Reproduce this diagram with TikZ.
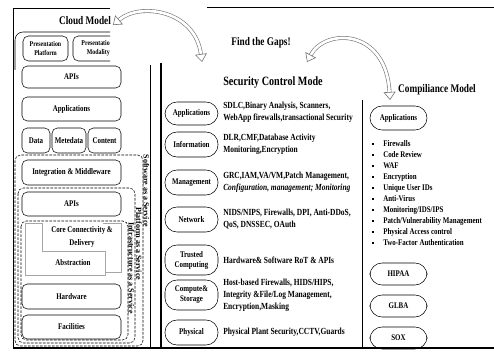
\documentclass[tikz,border=0pt]{standalone}
\usepackage{fontspec}
\setmainfont{Liberation Serif}
\newfontfamily\cnd{Liberation Serif}[FakeStretch=0.8]
\usetikzlibrary{arrows.meta}

\begin{document}
\begin{tikzpicture}[x=0.75pt,y=0.75pt,yscale=-1,xscale=1,
  cbox/.style={draw, rounded corners=4pt, inner sep=0pt, align=center, font=\cnd\bfseries\fontsize{6.5}{7.5}\selectfont},
  sbox/.style={draw, rounded corners=9pt, inner sep=0pt, align=center, minimum width=39.75pt, font=\cnd\bfseries\fontsize{6.5}{7.5}\selectfont},
  desc/.style={anchor=west, inner sep=0pt, align=left, font=\cnd\bfseries\fontsize{7}{9}\selectfont},
  ttl/.style={inner sep=0pt, font=\cnd\bfseries\fontsize{8.7}{10}\selectfont},
  aas/.style={inner sep=0pt, rotate=-90, font=\bfseries\fontsize{6}{7}\selectfont},
  layer/.style={draw, dash pattern=on 2pt off 1pt, rounded corners=4pt},
  core/.style={draw=black!35, line width=0.5pt},
  bul/.style={fill, inner sep=0pt, minimum size=2.2pt},
  blist/.style={anchor=west, inner sep=0pt, font=\cnd\bfseries\fontsize{6.5}{7.5}\selectfont},
  gaparr/.style={draw=black!55, double=white, double distance=2pt, line width=0.45pt, {Triangle[open,width=9pt,length=6pt]}-{Triangle[open,width=9pt,length=6pt]}}
]
\useasboundingbox (0,0) rectangle (494,352);

%Frames
\draw (13,348) -- (13,8) -- (110,8) ;
\draw [rounded corners=6pt] (15,70) -- (15,32) -- (110,32) ;
\draw (150,65) -- (150,348) ;
\draw [line width=0.8pt] (161,63) -- (161,348) ;
\draw (207,7) -- (494,7) ;
\draw (362,100) -- (362,348) ;
\draw [line width=0.8pt] (13,348) -- (494,348) ;

% Cloud Model
\node [ttl] (cloud) at (85,21) {Cloud Model};
\node [cbox, font=\cnd\bfseries\fontsize{5.5}{6.5}\selectfont, minimum width=33.75pt, minimum height=18.75pt] (pplat) at (45.5,48.5) {Presentation\\Platform};
\begin{scope}
\clip (0,0) rectangle (110,70);
\node [cbox, minimum width=33.75pt, minimum height=18.75pt] (pmod) at (95.5,48.5) {};
\node [anchor=east, inner sep=0pt, align=right, font=\cnd\bfseries\fontsize{5.5}{6.5}\selectfont] (pmodtxt) at (110,48.5) {Presentatio\\Modality};
\end{scope}
\node [cbox, minimum width=74.25pt, minimum height=16.5pt] (apis1) at (71.5,77) {APIs};
\node [cbox, minimum width=74.25pt, minimum height=18pt] (apps1) at (71.5,109) {Applications};
\node [cbox, minimum width=21pt, minimum height=18.75pt] (data) at (36,140.5) {Data};
\node [cbox, minimum width=25.5pt, minimum height=18.75pt] (meta) at (69,140.5) {Metedata};
\node [cbox, minimum width=24.75pt, minimum height=18.75pt] (content) at (104.5,140.5) {Content};

%Service layers
\draw [layer] (15,155) rectangle (143,346) ;
\draw [layer] (18,188) rectangle (135,343) ;
\draw [layer] (21,221) rectangle (128,340) ;
\node [aas] (saas) at (146.5,191) {Software as a Service};
\node [aas] (paas) at (139,244) {Platform as a Service};
\node [aas] (iaas) at (131.5,268) {Infrastructure as a Service};

\node [cbox, minimum width=74.25pt, minimum height=18.75pt] (integ) at (71.5,172.5) {Integration \& Middleware};
\node [cbox, minimum width=74.25pt, minimum height=18pt] (apis2) at (71.5,204) {APIs};

%Core connectivity and abstraction
\draw [core] (103,223) -- (121,223) -- (121,272) -- (106,272) ;
\draw [core] (25,223) -- (42,223) -- (42,251) -- (105,251) -- (105,275) -- (25,275) -- cycle ;
\node [inner sep=0pt, align=center, font=\cnd\bfseries\fontsize{6.5}{10}\selectfont] (corecon) at (82,237) {Core Connectivity \&\\Delivery};
\node [inner sep=0pt, font=\cnd\bfseries\fontsize{6.5}{7.5}\selectfont] (abstr) at (73,263) {Abstraction};

\node [cbox, minimum width=74.25pt, minimum height=18.75pt] (hardw) at (71.5,296.5) {Hardware};
\node [cbox, minimum width=74.25pt, minimum height=18pt] (facil) at (71.5,327) {Facilities};

% Security Control Model
\node [ttl] (gaps) at (261,43) {Find the Gaps!};
\node [ttl, font=\cnd\bfseries\fontsize{9.5}{11}\selectfont] (secmodel) at (273,82) {Security Control Mode};

\node [sbox, minimum height=17.25pt] (sapps) at (191.5,113.5) {Applications};
\node [sbox, minimum height=18.75pt] (sinfo) at (191.5,144.5) {Information};
\node [sbox, minimum height=18.75pt] (smgmt) at (191.5,182.5) {Management};
\node [sbox, minimum height=18.75pt] (snet) at (191.5,219.5) {Network};
\node [sbox, minimum height=22.5pt] (strust) at (191.5,260) {Trusted\\Computing};
\node [sbox, minimum height=22.5pt] (scomp) at (191.5,295) {Compute\&\\Storage};
\node [sbox, minimum height=18.75pt] (sphys) at (191.5,332.5) {Physical};

\node [desc] (dapps) at (223,112) {SDLC,Binary Analysis, Scanners,\\WebApp firewalls,transactional Security};
\node [desc] (dinfo) at (223,144.5) {DLR,CMF,Database Activity\\Monitoring,Encryption};
\node [desc] (dmgmt) at (223,182.5) {GRC,IAM,VA/VM,Patch Management,\\\textit{Configuration, management; Monitoring}};
\node [desc] (dnet) at (223,219.5) {NIDS/NIPS, Firewalls, DPI, Anti-DDoS,\\QoS, DNSSEC, OAuth};
\node [desc] (dtrust) at (223,260) {Hardware\& Software RoT \& APIs};
\node [desc] (dcomp) at (223,295) {Host-based Firewalls, HIDS/HIPS,\\Integrity \&File/Log Management,\\Encryption,Masking};
\node [desc] (dphys) at (223,332.5) {Physical Plant Security,CCTV,Guards};

% Compliance Model
\node [ttl] (compl) at (437,90) {Compiliance Model};
\node [sbox, minimum width=42.75pt, minimum height=18pt] (capps) at (398.5,118) {Applications};

\node [bul] (b1) at (373,144) {};
\node [blist] (l1) at (383,144) {Firewalls};
\node [bul] (b2) at (373,155) {};
\node [blist] (l2) at (383,155) {Code Review};
\node [bul] (b3) at (373,166) {};
\node [blist] (l3) at (383,166) {WAF};
\node [bul] (b4) at (373,177) {};
\node [blist] (l4) at (383,177) {Encryption};
\node [bul] (b5) at (373,188) {};
\node [blist] (l5) at (383,188) {Unique User IDs};
\node [bul] (b6) at (373,199) {};
\node [blist] (l6) at (383,199) {Anti-Virus};
\node [bul] (b7) at (373,210) {};
\node [blist] (l7) at (383,210) {Monitoring/IDS/IPS};
\node [bul] (b8) at (373,221) {};
\node [blist] (l8) at (383,221) {Patch/Vulnerability Management};
\node [bul] (b9) at (373,232) {};
\node [blist] (l9) at (383,232) {Physical Access control};
\node [bul] (b10) at (373,243) {};
\node [blist] (l10) at (383,243) {Two-Factor Authentication};

\node [sbox, minimum width=42.75pt, minimum height=16.5pt] (hipaa) at (398.5,274) {HIPAA};
\node [sbox, minimum width=42.75pt, minimum height=16.5pt] (glba) at (398.5,306) {GLBA};
\node [sbox, minimum width=42.75pt, minimum height=16.5pt] (sox) at (398.5,338) {SOX};

%Curved arrows
\coordinate (cmtip) at (113,25);
\coordinate (gaptip1) at (202,62);
\coordinate (gaptip2) at (307,62);
\coordinate (comtip) at (390,100);
\draw [gaparr] (cmtip) .. controls (140,2) and (195,10) .. (gaptip1) ;
\draw [gaparr] (gaptip2) .. controls (325,28) and (386,28) .. (comtip) ;

\end{tikzpicture}
\end{document}
